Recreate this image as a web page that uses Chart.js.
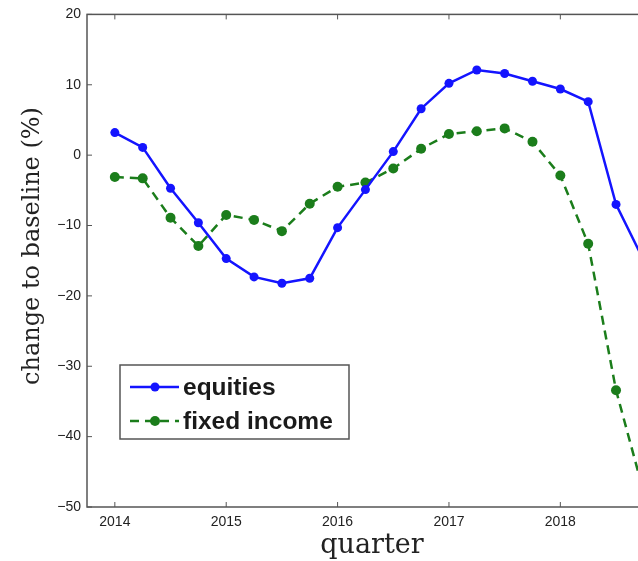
<!DOCTYPE html>
<html>
<head>
<meta charset="utf-8">
<script src="https://cdn.jsdelivr.net/npm/chart.js@4.4.1/dist/chart.umd.min.js"></script>
<style>
  html, body { margin: 0; padding: 0; background: #fff; overflow: hidden; }
  #wrap { width: 660px; height: 561px; }
</style>
</head>
<body>
<div id="wrap"><canvas id="chart" width="660" height="561"></canvas></div>
<script>
// Quarterly change to baseline (%), 2014Q1 .. 2018Q4
const quarters = [
  2014.00, 2014.25, 2014.50, 2014.75,
  2015.00, 2015.25, 2015.50, 2015.75,
  2016.00, 2016.25, 2016.50, 2016.75,
  2017.00, 2017.25, 2017.50, 2017.75,
  2018.00, 2018.25, 2018.50, 2018.75,
];
const equities = [
  3.2, 1.1, -4.7, -9.6,
  -14.7, -17.3, -18.2, -17.5,
  -10.3, -4.9, 0.5, 6.6,
  10.2, 12.1, 11.6, 10.5,
  9.4, 7.6, -7.0, -15.0,
];
const fixedIncome = [
  -3.1, -3.3, -8.9, -12.9,
  -8.5, -9.2, -10.8, -6.9,
  -4.5, -3.9, -1.9, 0.9,
  3.0, 3.4, 3.8, 1.9,
  -2.9, -12.6, -33.4, -48.0,
];
const yearTicks = [2014, 2015, 2016, 2017, 2018];
const valueTicks = [-50, -40, -30, -20, -10, 0, 10, 20];

const BLUE = '#1414ff';
const GREEN = '#1b7d1b';
const FRAME = '#555555';
const TICK_FONT = { family: 'Liberation Sans', size: 14 };

const toPoints = (ys) => ys.map((y, i) => ({ x: quarters[i], y }));

// Box around the axes with short inward tick marks (matlab style)
const framePlugin = {
  id: 'frame',
  afterDatasetsDraw(chart) {
    const { ctx, chartArea: a, scales } = chart;
    ctx.save();
    ctx.strokeStyle = FRAME;
    ctx.lineWidth = 1.5;
    ctx.strokeRect(a.left, a.top, a.right - a.left, a.bottom - a.top);
    ctx.lineWidth = 1;
    ctx.beginPath();
    yearTicks.forEach(v => {
      const x = scales.x.getPixelForValue(v);
      ctx.moveTo(x, a.bottom); ctx.lineTo(x, a.bottom - 5);
      ctx.moveTo(x, a.top); ctx.lineTo(x, a.top + 5);
    });
    valueTicks.forEach(v => {
      const y = scales.y.getPixelForValue(v);
      ctx.moveTo(a.left, y); ctx.lineTo(a.left + 5, y);
    });
    ctx.stroke();
    ctx.restore();
  },
};

// Boxed legend sitting inside the plot, lower left
const legendPlugin = {
  id: 'boxLegend',
  afterDraw(chart) {
    const { ctx } = chart;
    const box = { x: 120, y: 365, w: 229, h: 74 };
    ctx.save();
    ctx.fillStyle = '#fff';
    ctx.fillRect(box.x, box.y, box.w, box.h);
    ctx.strokeStyle = FRAME;
    ctx.lineWidth = 1.5;
    ctx.strokeRect(box.x, box.y, box.w, box.h);
    ctx.font = 'bold 24.5px "Liberation Sans"';
    ctx.textBaseline = 'middle';
    chart.data.datasets.forEach((ds, i) => {
      const y = box.y + 22 + i * 34;
      ctx.strokeStyle = ds.borderColor;
      ctx.lineWidth = ds.borderWidth;
      ctx.setLineDash(ds.borderDash || []);
      ctx.beginPath();
      ctx.moveTo(130, y); ctx.lineTo(179, y);
      ctx.stroke();
      ctx.setLineDash([]);
      ctx.fillStyle = ds.pointBackgroundColor;
      ctx.beginPath();
      ctx.arc(155, y, ds.pointRadius, 0, Math.PI * 2);
      ctx.fill();
      ctx.fillStyle = '#1a1a1a';
      ctx.fillText(ds.label, 183, y + 1);
    });
    ctx.restore();
  },
};

// Serif axis titles
const titlesPlugin = {
  id: 'axisTitles',
  afterDraw(chart) {
    const { ctx } = chart;
    ctx.save();
    ctx.fillStyle = '#222';
    ctx.textAlign = 'center';
    ctx.textBaseline = 'alphabetic';
    ctx.font = '27px "DejaVu Serif"';
    ctx.fillText('quarter', 372, 553);
    ctx.translate(39, 246);
    ctx.rotate(-Math.PI / 2);
    ctx.font = '24px "DejaVu Serif"';
    ctx.fillText('change to baseline (%)', 0, 0);
    ctx.restore();
  },
};

new Chart(document.getElementById('chart'), {
  type: 'line',
  data: {
    datasets: [
      {
        label: 'equities',
        data: toPoints(equities),
        borderColor: BLUE,
        backgroundColor: BLUE,
        pointBackgroundColor: BLUE,
        pointBorderColor: BLUE,
        borderWidth: 2.5,
        pointRadius: 4.5,
        pointBorderWidth: 0,
        tension: 0,
      },
      {
        label: 'fixed income',
        data: toPoints(fixedIncome),
        borderColor: GREEN,
        backgroundColor: GREEN,
        pointBackgroundColor: GREEN,
        pointBorderColor: GREEN,
        borderWidth: 2.5,
        borderDash: [9, 6],
        pointRadius: 5,
        pointBorderWidth: 0,
        tension: 0,
      },
    ],
  },
  options: {
    responsive: false,
    animation: false,
    layout: { padding: { top: 10, right: 2, left: 0, bottom: 0 } },
    plugins: {
      legend: { display: false },
      tooltip: { enabled: false },
    },
    scales: {
      x: {
        type: 'linear',
        min: 2013.75,
        max: 2018.85,
        afterBuildTicks: (s) => { s.ticks = yearTicks.map(v => ({ value: v })); },
        afterFit: (s) => { s.height = 54; },
        grid: { display: false, drawTicks: false },
        border: { display: false },
        ticks: {
          color: '#222',
          font: TICK_FONT,
          padding: 7,
          maxRotation: 0,
          callback: (v) => String(v),
        },
      },
      y: {
        min: -50,
        max: 20,
        afterBuildTicks: (s) => { s.ticks = valueTicks.map(v => ({ value: v })); },
        afterFit: (s) => { s.width = 87; },
        grid: { display: false, drawTicks: false },
        border: { display: false },
        ticks: {
          color: '#222',
          font: TICK_FONT,
          padding: 6,
          callback: (v) => String(v).replace('-', '\u2212'),
        },
      },
    },
  },
  plugins: [framePlugin, legendPlugin, titlesPlugin],
});
</script>
</body>
</html>
